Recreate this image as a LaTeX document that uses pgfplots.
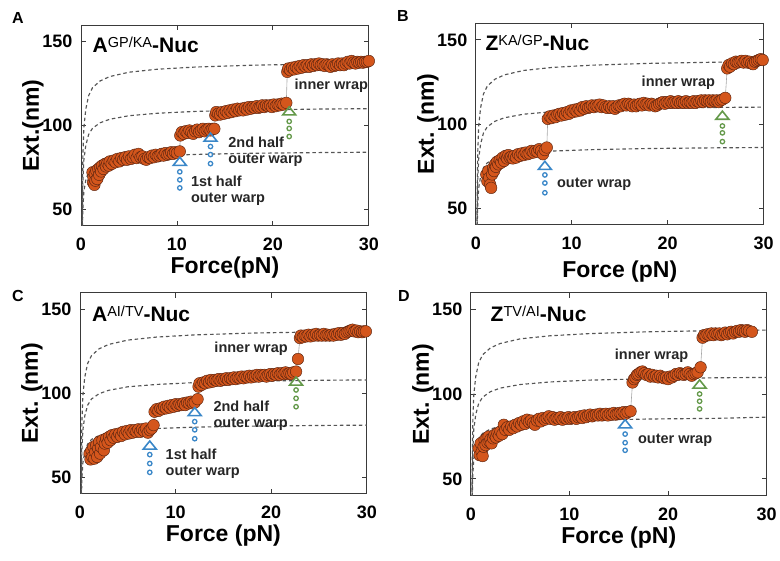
\documentclass[border=0pt]{standalone}
\usepackage{fontspec}
\setmainfont{Liberation Sans}
\usepackage{pgfplots}
\pgfplotsset{compat=1.18}
\definecolor{dotfill}{HTML}{D4561C}
\definecolor{dotline}{HTML}{5A2410}
\definecolor{wlc}{HTML}{555555}
\definecolor{axc}{HTML}{3A3A3A}
\definecolor{arrblue}{HTML}{3A87C8}
\definecolor{arrgreen}{HTML}{64994A}
\definecolor{txt}{HTML}{262626}
\newcommand\tickfont{\fontsize{18}{18}\selectfont\bfseries}
\newcommand\labfont{\fontsize{23}{24}\selectfont\bfseries}
\newcommand\notefont{\fontsize{14.5}{16}\selectfont\bfseries}
\newcommand\ttl[2]{{\fontsize{21}{21}\selectfont\bfseries #1\raisebox{5.2pt}{\fontsize{14.5}{14.5}\selectfont\mdseries #2}-Nuc}}
\pgfplotsset{
  panel/.style={
    scale only axis, anchor=south west,
    xmin=0, xmax=30, ymin=40, ymax=160,
    xtick={0,10,20,30}, ytick={50,100,150},
    tick align=inside, major tick length=5pt,
    axis line style={draw=axc, line width=0.8pt},
    tick style={draw=axc, line width=0.8pt},
    ticklabel style={font=\tickfont},
    xticklabel style={yshift=-9pt},
    yticklabel style={xshift=-5pt},
    /pgf/number format/assume math mode=true,
    label style={font=\labfont},
    ylabel style={at={(axis description cs:0,0.5)}, anchor=center, yshift=48pt},
  },
  xlab/.style={xlabel style={at={(axis description cs:0.5,0)}, anchor=center, yshift=-#1}},
  wlc/.style={draw=wlc, line width=1.15pt, dash pattern=on 3.5pt off 2.8pt, no marks},
  data/.style={draw=gray!70, line width=0.6pt, mark=*, mark size=5.8pt,
    mark options={solid, fill=dotfill, draw=dotline, line width=0.45pt}},
  tri/.style={only marks, mark=triangle, mark size=7.5pt,
    mark options={draw=#1, line width=1.6pt, yscale=0.72}},
  dots/.style={only marks, mark=o, mark size=2.2pt,
    mark options={draw=#1, line width=1.3pt}},
}
\begin{document}
\begin{tikzpicture}
\path (0,0) rectangle (780pt,-561pt);
\node[font=\fontsize{16}{16}\selectfont\bfseries] at (18pt,-18pt) {A};
\node[font=\fontsize{16}{16}\selectfont\bfseries] at (403pt,-16pt) {B};
\node[font=\fontsize{16}{16}\selectfont\bfseries] at (18pt,-296pt) {C};
\node[font=\fontsize{16}{16}\selectfont\bfseries] at (404pt,-296pt) {D};

% ---- A ----
\begin{axis}[panel, xlab=42pt, at={(81pt,-226pt)}, width=288pt, height=201pt,
  xlabel={Force(pN)}, ylabel={Ext.(nm)}]
\addplot[wlc] coordinates {(0.1,16.8)(0.15,37.8)(0.2,50.4)(0.3,60.5)(0.5,67.2)(0.8,72.2)(1.2,75.1)(2,77.6)(3,79.2)(5,80.8)(8,81.9)(12,82.7)(18,83.4)(25,83.8)(30,84)};
\addplot[wlc] coordinates {(0.1,22)(0.15,49.5)(0.2,66)(0.3,79.2)(0.5,88)(0.8,94.6)(1.2,98.3)(2,101.6)(3,103.7)(5,105.8)(8,107.3)(12,108.4)(18,109.2)(25,109.8)(30,110)};
\addplot[wlc] coordinates {(0.1,27.4)(0.15,61.7)(0.2,82.2)(0.3,98.6)(0.5,109.6)(0.8,117.8)(1.2,122.5)(2,126.6)(3,129.2)(5,131.8)(8,133.6)(12,134.9)(18,136)(25,136.7)(30,137)};
\addplot[data] coordinates {
(1.2,72) (1.25,66) (1.3,69) (1.4,64.5) (1.45,71) (1.5,67) (1.6,73) (1.7,68) (1.8,74) (1.9,70.5) (2.0,75) (2.1,72.5) (2.2,76) (2.35,74) (2.5,77) (2.6,75.5) (2.75,77.5) (2.9,76) (3.0,78.5) (3.2,77) (3.4,79) (3.6,78) (3.8,80) (4.0,78.5) (4.2,80.5) (4.4,79.5) (4.6,81) (4.8,79.5) (5.0,81.5) (5.2,80) (5.4,81) (5.6,82.5) (5.8,80.5) (6.0,83) (6.2,81) (6.4,81.5) (6.6,80) (6.8,79.5) (7.0,81) (7.2,80.5) (7.4,82) (7.6,81) (7.8,82.5) (8.0,81.5) (8.2,82) (8.4,83) (8.6,82) (8.8,83.5) (9.0,82.5) (9.2,83) (9.4,84) (9.6,83) (9.8,84) (10.0,83.5) (10.3,84.5)
(10.35,94) (10.5,96) (10.7,95) (10.9,96.5) (11.1,95.5) (11.3,97) (11.5,96) (11.7,95) (11.9,96.5) (12.1,97.5) (12.3,96) (12.5,97) (12.7,98) (12.9,96.5) (13.1,97.5) (13.3,98) (13.5,97) (13.7,98) (13.9,98)
(14.0,106) (14.1,108) (14.3,107) (14.5,106.5) (14.7,108) (14.9,107) (15.1,108.5) (15.3,107.5) (15.5,109) (15.7,108) (15.9,109.5) (16.1,108.5) (16.3,110) (16.5,109) (16.7,110) (16.9,109) (17.1,110.5) (17.3,109.5) (17.5,111) (17.7,110) (17.9,111) (18.1,110.5) (18.3,111.5) (18.5,110.5) (18.7,111) (18.9,112) (19.1,111) (19.3,112) (19.5,111.5) (19.7,112) (19.9,111) (20.1,112.5) (20.3,111.5) (20.5,112.5) (20.7,112) (20.9,113) (21.1,112.5) (21.4,113.5)
(21.5,132) (21.6,134) (21.8,133) (22.0,134.5) (22.2,133.5) (22.4,135) (22.6,134) (22.8,135.5) (23.0,134.5) (23.2,136) (23.4,135) (23.6,136) (23.8,135) (24.0,136.5) (24.2,135.5) (24.4,136.5) (24.6,136) (24.8,137) (25.0,136) (25.2,136.5) (25.4,135.5) (25.6,136.5) (25.8,136) (26.0,135) (26.2,136.5) (26.4,135.5) (26.6,136) (26.8,137) (27.0,136) (27.2,137) (27.4,136) (27.6,137) (27.8,138) (28.0,137) (28.2,138.5) (28.4,137.5) (28.6,137) (28.8,138) (29.0,137.5) (29.2,138) (29.4,137.5) (29.6,138) (29.8,138) (30.0,138.5)};
\addplot[tri=arrblue] coordinates {(10.3,77.8) (13.5,92.2)};
\addplot[dots=arrblue] coordinates {(10.3,72.3)(10.3,67.5)(10.3,62.7)(13.5,87.4)(13.5,82.6)(13.5,77.2)};
\addplot[tri=arrgreen] coordinates {(21.7,107.9)};
\addplot[dots=arrgreen] coordinates {(21.7,102.4)(21.7,98.2)(21.7,93.4)};
\node[anchor=west, font=\notefont, text=txt, align=left] at (axis cs:11.1,61.2) {1st half\\outer warp};
\node[anchor=west, font=\notefont, text=txt, align=left] at (axis cs:15,84.1) {2nd half\\outer warp};
\node[anchor=west, font=\notefont, text=txt] at (axis cs:21.9,124) {inner wrap};
\node[anchor=west, inner sep=0pt] at (axis cs:1.2,148) {\ttl{A}{GP/KA}};
\end{axis}

% ---- B ----
\begin{axis}[panel, xlab=47pt, at={(476pt,-225pt)}, width=288pt, height=202pt,
  xlabel={Force (pN)}, ylabel={Ext. (nm)}]
\addplot[wlc] coordinates {(0.1,17.2)(0.15,38.7)(0.2,51.6)(0.3,61.9)(0.5,68.8)(0.8,74)(1.2,76.9)(2,79.5)(3,81.1)(5,82.7)(8,83.9)(12,84.7)(18,85.4)(25,85.8)(30,86)};
\addplot[wlc] coordinates {(0.1,22)(0.15,49.5)(0.2,66)(0.3,79.2)(0.5,88)(0.8,94.6)(1.2,98.3)(2,101.6)(3,103.7)(5,105.8)(8,107.3)(12,108.4)(18,109.2)(25,109.8)(30,110)};
\addplot[wlc] coordinates {(0.1,27.4)(0.15,61.7)(0.2,82.2)(0.3,98.6)(0.5,109.6)(0.8,117.8)(1.2,122.5)(2,126.6)(3,129.2)(5,131.8)(8,133.6)(12,134.9)(18,136)(25,136.7)(30,137)};
\addplot[data] coordinates {
(1.1,70) (1.2,66) (1.3,72) (1.4,68) (1.5,64) (1.6,62) (1.7,70) (1.8,74) (1.9,72) (2.0,76) (2.1,74.5) (2.2,77.5) (2.35,76) (2.5,78.5) (2.65,77) (2.8,80) (2.95,78) (3.1,81) (3.25,79.5) (3.4,81.5) (3.55,80) (3.7,80.5) (3.85,79.5) (4.0,81) (4.2,80) (4.4,82) (4.6,81) (4.8,82.5) (5.0,81.5) (5.2,83) (5.4,82) (5.6,82.5) (5.8,84) (6.0,83) (6.2,84) (6.4,83.5) (6.6,85) (6.8,84) (7.0,82) (7.2,84.5) (7.4,86)
(7.5,103) (7.7,104.5) (7.9,103.5) (8.1,105) (8.3,104) (8.5,105.5) (8.7,106) (8.9,105) (9.1,106.5) (9.3,105.5) (9.5,107) (9.7,106) (9.9,108) (10.1,107) (10.3,108.5) (10.5,107.5) (10.7,109) (10.9,108) (11.1,110) (11.3,109) (11.5,110.5) (11.7,109.5) (11.9,110) (12.1,111) (12.3,110) (12.5,111) (12.7,110.5) (12.9,111.5) (13.1,110) (13.3,111) (13.5,110) (13.7,109.5) (13.9,110.5) (14.1,109.5) (14.3,110.5) (14.5,109) (14.7,110) (14.9,111) (15.1,110.5) (15.3,111.5) (15.5,112) (15.7,111) (15.9,112) (16.1,111.5) (16.3,110.5) (16.5,111.5) (16.7,110.5) (16.9,111.5) (17.1,112) (17.3,111) (17.5,112.5) (17.7,111.5) (17.9,112) (18.1,111) (18.3,112) (18.5,111.5) (18.7,110.5) (18.9,111) (19.1,112) (19.3,112.5) (19.5,113) (19.7,112) (19.9,113) (20.1,112.5) (20.3,113.5) (20.5,112.5) (20.7,113) (20.9,112.5) (21.1,113.5) (21.3,112.5) (21.5,113) (21.7,112.5) (21.9,113.5) (22.1,112.5) (22.3,113) (22.5,112.5) (22.7,113.5) (22.9,112.5) (23.1,113.5) (23.3,113) (23.5,114) (23.7,113) (23.9,114) (24.1,113.5) (24.3,114) (24.5,113) (24.7,114) (24.9,113.5) (25.1,114) (25.3,113) (25.5,114) (25.7,114.5) (26.0,115.5)
(26.2,133) (26.35,135) (26.5,134) (26.7,136) (26.9,135.5) (27.1,137) (27.3,136.5) (27.5,137) (27.7,137.5) (27.9,136.5) (28.1,137.5) (28.3,136.5) (28.5,137) (28.7,136) (28.9,135.5) (29.1,137) (29.3,137.5) (29.5,138) (29.7,138.5) (29.9,138)};
\addplot[tri=arrblue] coordinates {(7.2,74.6)};
\addplot[dots=arrblue] coordinates {(7.2,69.7)(7.2,64.9)(7.2,59.1)};
\addplot[tri=arrgreen] coordinates {(25.7,104.4)};
\addplot[dots=arrgreen] coordinates {(25.7,98.8)(25.7,94.7)(25.7,89.5)};
\node[anchor=west, font=\notefont, text=txt] at (axis cs:8.1,64.3) {outer wrap};
\node[anchor=east, font=\notefont, text=txt] at (axis cs:25.3,124.4) {inner wrap};
\node[anchor=west, inner sep=0pt] at (axis cs:1.0,148) {\ttl{Z}{KA/GP}};
\end{axis}

% ---- C ----
\begin{axis}[panel, xlab=42pt, at={(80pt,-494pt)}, width=287pt, height=201pt,
  xlabel={Force (pN)}, ylabel={Ext. (nm)}]
\addplot[wlc] coordinates {(0.1,16.2)(0.15,36.5)(0.2,48.6)(0.3,58.3)(0.5,64.8)(0.8,69.7)(1.2,72.4)(2,74.8)(3,76.4)(5,77.9)(8,79)(12,79.8)(18,80.4)(25,80.8)(30,81)};
\addplot[wlc] coordinates {(0.1,21.6)(0.15,48.6)(0.2,64.8)(0.3,77.8)(0.5,86.4)(0.8,92.9)(1.2,96.6)(2,99.8)(3,101.8)(5,103.9)(8,105.3)(12,106.4)(18,107.2)(25,107.8)(30,108)};
\addplot[wlc] coordinates {(0.1,27.4)(0.15,61.7)(0.2,82.2)(0.3,98.6)(0.5,109.6)(0.8,117.8)(1.2,122.5)(2,126.6)(3,129.2)(5,131.8)(8,133.6)(12,134.9)(18,136)(25,136.7)(30,137)};
\addplot[data] coordinates {
(1.0,64) (1.1,60.5) (1.2,66) (1.3,62) (1.4,68) (1.5,61) (1.6,65) (1.7,69) (1.8,62) (1.9,67) (2.0,71) (2.1,64) (2.2,68) (2.35,72) (2.5,66) (2.6,70) (2.75,73) (2.9,70.5) (3.05,74) (3.2,72) (3.35,75) (3.5,73.5) (3.7,75.5) (3.9,74) (4.1,76) (4.3,74.5) (4.5,77) (4.7,75.5) (4.9,77.5) (5.1,76) (5.3,78) (5.5,76.5) (5.7,78) (5.9,77) (6.1,78.5) (6.3,77) (6.5,78.5) (6.7,77.5) (6.9,79) (7.1,76.5) (7.3,78) (7.5,79) (7.7,81)
(7.8,89) (8.0,90.5) (8.2,89.5) (8.4,91) (8.6,90.5) (8.8,92) (9.0,91) (9.2,92.5) (9.4,91.5) (9.6,93) (9.8,92) (10.0,93.5) (10.2,92.5) (10.4,93.5) (10.6,93) (10.8,94) (11.0,93) (11.2,94.5) (11.4,94) (11.6,95) (11.8,94) (12.0,94.5) (12.3,96.5)
(12.4,104) (12.5,106) (12.7,105) (12.9,106.5) (13.1,106) (13.3,107.5) (13.5,106.5) (13.7,108) (13.9,107) (14.1,108) (14.3,107.5) (14.5,108.5) (14.7,107.5) (14.9,108.5) (15.1,108) (15.3,109) (15.5,108) (15.7,109) (15.9,108.5) (16.1,109.5) (16.3,108.5) (16.5,109.5) (16.7,109) (16.9,110) (17.1,109) (17.3,110) (17.5,109.5) (17.7,110.5) (17.9,109.5) (18.1,110.5) (18.3,110) (18.5,111) (18.7,110) (18.9,111) (19.1,110.5) (19.3,111) (19.5,110) (19.7,111) (19.9,111.5) (20.1,110.5) (20.3,111.5) (20.5,111) (20.7,112) (20.9,111) (21.1,112) (21.3,111.5) (21.5,112.5) (21.7,111.5) (21.9,112) (22.1,111.5) (22.3,112.5) (22.6,113) (22.8,120.5)
(23.0,133) (23.1,134.5) (23.3,133.5) (23.5,134.5) (23.7,134) (23.9,135) (24.1,134) (24.3,135) (24.5,134.5) (24.7,135.5) (24.9,134.5) (25.1,135) (25.3,134.5) (25.5,135.5) (25.7,134.5) (25.9,135) (26.1,134.5) (26.3,135) (26.5,134.5) (26.7,135.5) (26.9,135) (27.1,136) (27.3,135) (27.5,136) (27.7,135.5) (27.9,136.5) (28.1,137) (28.3,137.5) (28.5,138) (28.7,137) (28.9,137.5) (29.1,136.5) (29.3,137) (29.5,136.5) (29.7,137) (29.9,137)};
\addplot[tri=arrblue] coordinates {(7.3,68.3) (12.0,88.3)};
\addplot[dots=arrblue] coordinates {(7.3,63.4)(7.3,58.1)(7.3,52.8)(12.0,83.1)(12.0,78.2)(12.0,72.9)};
\addplot[tri=arrgreen] coordinates {(22.6,106.5)};
\addplot[dots=arrgreen] coordinates {(22.6,102)(22.6,97)(22.6,92)};
\node[anchor=west, font=\notefont, text=txt, align=left] at (axis cs:8.6,58.1) {1st half\\outer warp};
\node[anchor=west, font=\notefont, text=txt, align=left] at (axis cs:13.6,86.8) {2nd half\\outer warp};
\node[anchor=east, font=\notefont, text=txt] at (axis cs:22.1,126.7) {inner wrap};
\node[anchor=west, inner sep=0pt] at (axis cs:1.25,147.5) {\ttl{A}{AI/TV}};
\end{axis}

% ---- D ----
\begin{axis}[panel, xlab=42pt, at={(471pt,-496pt)}, width=296pt, height=203pt,
  xlabel={Force (pN)}, ylabel={Ext. (nm)}]
\addplot[wlc] coordinates {(0.1,17.2)(0.15,38.7)(0.2,51.6)(0.3,61.9)(0.5,68.8)(0.8,74)(1.2,76.9)(2,79.5)(3,81.1)(5,82.7)(8,83.9)(12,84.7)(18,85.4)(25,85.8)(30,86.5)};
\addplot[wlc] coordinates {(0.1,22)(0.15,49.5)(0.2,66)(0.3,79.2)(0.5,88)(0.8,94.6)(1.2,98.3)(2,101.6)(3,103.7)(5,105.8)(8,107.3)(12,108.4)(18,109.2)(25,109.8)(30,110)};
\addplot[wlc] coordinates {(0.1,27.6)(0.15,62.1)(0.2,82.8)(0.3,99.4)(0.5,110.4)(0.8,118.7)(1.2,123.4)(2,127.5)(3,130.1)(5,132.8)(8,134.6)(12,135.9)(18,137)(25,137.7)(30,138)};
\addplot[data] coordinates {
(0.8,68) (0.9,64) (1.0,71) (1.1,66) (1.2,63.5) (1.3,69) (1.4,73) (1.5,70) (1.6,74) (1.7,71.5) (1.8,75) (1.9,72) (2.0,73.5) (2.1,71) (2.25,74) (2.4,76) (2.55,74.5) (2.7,77) (2.85,75.5) (3.0,78) (3.2,76.5) (3.35,82) (3.5,79) (3.7,80.5) (3.9,79) (4.1,81) (4.3,80) (4.5,82) (4.7,81) (4.9,83) (5.1,82) (5.3,84) (5.5,82.5) (5.7,85) (5.9,83.5) (6.1,84.5) (6.3,83) (6.5,82) (6.7,84.5) (6.9,85.5) (7.1,84) (7.3,86) (7.5,85) (7.7,86) (7.9,87) (8.1,85.5) (8.3,86.5) (8.5,85) (8.7,86) (8.9,85.5) (9.1,86.5) (9.3,85) (9.5,86) (9.7,85.5) (9.9,86.5) (10.1,85.5) (10.3,86) (10.5,86.5) (10.7,85.5) (10.9,86.5) (11.1,87) (11.3,86) (11.5,87.5) (11.7,86.5) (11.9,87.5) (12.1,88) (12.3,87) (12.5,87.5) (12.7,88) (12.9,87.5) (13.1,88.5) (13.3,87.5) (13.5,88) (13.7,88.5) (13.9,87.5) (14.1,88.5) (14.3,88) (14.5,89) (14.7,88) (14.9,88.5) (15.1,89) (15.3,88.5) (15.5,89.5) (15.7,88.5) (15.9,89.5) (16.2,90)
(16.4,107) (16.55,109) (16.7,110) (16.85,111.5) (17.0,112) (17.2,113) (17.4,113.5) (17.6,112.5) (17.8,111.5) (18.0,112) (18.2,110.5) (18.4,111.5) (18.6,110.5) (18.8,111) (19.0,110) (19.2,111) (19.4,110) (19.6,109.5) (19.8,110) (20.0,109) (20.2,110.5) (20.4,110) (20.6,111) (20.8,112) (21.0,111.5) (21.2,112.5) (21.4,112) (21.6,111.5) (21.8,112) (22.0,113) (22.2,112) (22.4,111) (22.6,112) (22.8,112.5) (23.0,113) (23.3,116)
(23.5,133.5) (23.65,135) (23.8,134.5) (24.0,135.5) (24.2,135) (24.4,136) (24.6,135) (24.8,136) (25.0,135.5) (25.2,136) (25.4,135) (25.6,135.5) (25.8,136.5) (26.0,135.5) (26.2,136.5) (26.4,137) (26.6,136) (26.8,137) (27.0,137.5) (27.2,137) (27.4,138) (27.6,137.5) (27.8,137) (28.0,138) (28.2,137.5) (28.5,137)};
\addplot[tri=arrblue] coordinates {(15.65,81.8)};
\addplot[dots=arrblue] coordinates {(15.65,76.5)(15.65,71.4)(15.65,66.9)};
\addplot[tri=arrgreen] coordinates {(23.2,105.3)};
\addplot[dots=arrgreen] coordinates {(23.2,100.2)(23.2,95.9)(23.2,91.4)};
\node[anchor=west, font=\notefont, text=txt] at (axis cs:16.6,72.8) {outer wrap};
\node[anchor=east, font=\notefont, text=txt] at (axis cs:22.4,122.9) {inner wrap};
\node[anchor=west, inner sep=0pt] at (axis cs:2.0,147.6) {\ttl{Z}{TV/AI}};
\end{axis}
\end{tikzpicture}
\end{document}
